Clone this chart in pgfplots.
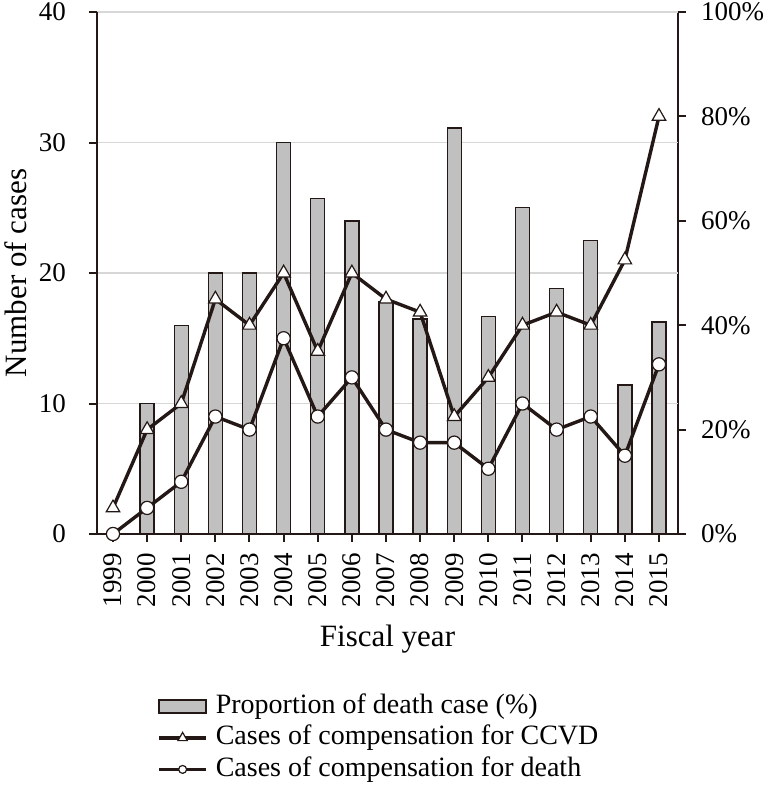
\documentclass[border=0pt]{standalone}
\usepackage{pgfplots}
\pgfplotsset{compat=1.18}
\usepackage{fontspec}
\setmainfont{Liberation Serif}
\definecolor{ink}{RGB}{35,24,21}
\definecolor{barfill}{RGB}{192,192,192}
\definecolor{gridc}{RGB}{215,215,215}
\pgfplotsset{
  barlegend/.style={legend image code/.code={\draw[##1] (0pt,-3.25pt) rectangle (23.5pt,3.25pt);}},
  trilegend/.style={legend image code/.code={\draw[mark repeat=2,mark phase=2,##1, every mark/.append style={scale=0.7}] plot coordinates {(0pt,0pt) (11.75pt,0pt) (23.5pt,0pt)};}},
  circlegend/.style={legend image code/.code={\draw[mark repeat=2,mark phase=2,##1, every mark/.append style={scale=0.6}] plot coordinates {(0pt,0pt) (11.75pt,0pt) (23.5pt,0pt)};}},
}
\begin{document}
\begin{tikzpicture}[font=\fontsize{13.5}{16}\selectfont]
\path[use as bounding box] (-48.5pt,-138.5pt) rectangle (335pt,267pt);
\pgfplotsset{
  common/.style={
    scale only axis, width=290.5pt, height=261pt,
    xmin=-0.469, xmax=16.557,
    /pgf/number format/assume math mode=true,
    tick style={ink, line width=1pt},
    major tick length=4pt,
    tick align=outside,
    axis line style={ink, line width=1pt, -},
    tick label style={font=\fontsize{13.5}{16}\selectfont},
  }
}
\begin{axis}[common,
  axis y line*=right, axis x line=none,
  ymin=0, ymax=100, ytick={0,20,...,100},
  yticklabel={\pgfmathprintnumber{\tick}\%},
  yticklabel style={xshift=4pt},
  extra y ticks={25,50,75,100}, extra y tick labels={},
  extra y tick style={grid=major, major grid style={gridc, line width=0.6pt}, major tick length=0pt},
]
\addplot[ybar, bar width=7pt, fill=barfill, draw=ink, line width=0.7pt] coordinates {
(1,25) (2,40) (3,50) (4,50) (5,75) (6,64.29) (7,60) (8,44.44) (9,41.18)
(10,77.78) (11,41.67) (12,62.5) (13,47.06) (14,56.25) (15,28.57) (16,40.63)};
\end{axis}
\begin{axis}[common,
  axis y line*=left, axis x line*=bottom,
  ymin=0, ymax=40, ytick={0,10,...,40},
  yticklabel style={xshift=-8pt},
  xtick={0,...,16},
  xticklabels={1999,2000,2001,2002,2003,2004,2005,2006,2007,2008,2009,2010,2011,2012,2013,2014,2015},
  xticklabel style={rotate=90, anchor=east, xshift=-2pt},
  xlabel={Fiscal year}, ylabel={Number of cases},
  xlabel style={font=\fontsize{15.5}{18}\selectfont, at={(axis description cs:0.5,0)}, anchor=base, yshift=-56pt},
  ylabel style={font=\fontsize{15.5}{18}\selectfont, at={(axis description cs:-0.1205,0.5)}, anchor=base},
  legend style={at={(axis description cs:0.1033,-0.3046)}, anchor=north west, draw=none, fill=none,
    inner sep=0pt, font=\fontsize{14}{16}\selectfont, row sep=2.75pt, column sep=4pt,
    nodes={inner sep=0pt, text height=10pt, text depth=3pt}},
  legend cell align=left,
]
\addlegendimage{ybar, fill=barfill, draw=ink, line width=0.7pt, barlegend}
\addlegendentry{Proportion of death case (\%)}
\addplot[ink, line width=1.7pt, mark=triangle*, mark size=3.9pt,
  mark options={fill=white, draw=ink, line width=0.6pt, solid}, trilegend]
coordinates {(0,2) (1,8) (2,10) (3,18) (4,16) (5,20) (6,14) (7,20) (8,18) (9,17) (10,9) (11,12) (12,16) (13,17) (14,16) (15,21) (16,32)};
\addlegendentry{Cases of compensation for CCVD}
\addplot[ink, line width=1.7pt, mark=*, mark size=3.3pt,
  mark options={fill=white, draw=ink, line width=0.6pt, solid}, circlegend]
coordinates {(0,0) (1,2) (2,4) (3,9) (4,8) (5,15) (6,9) (7,12) (8,8) (9,7) (10,7) (11,5) (12,10) (13,8) (14,9) (15,6) (16,13)};
\addlegendentry{Cases of compensation for death}
\end{axis}
\end{tikzpicture}
\end{document}
